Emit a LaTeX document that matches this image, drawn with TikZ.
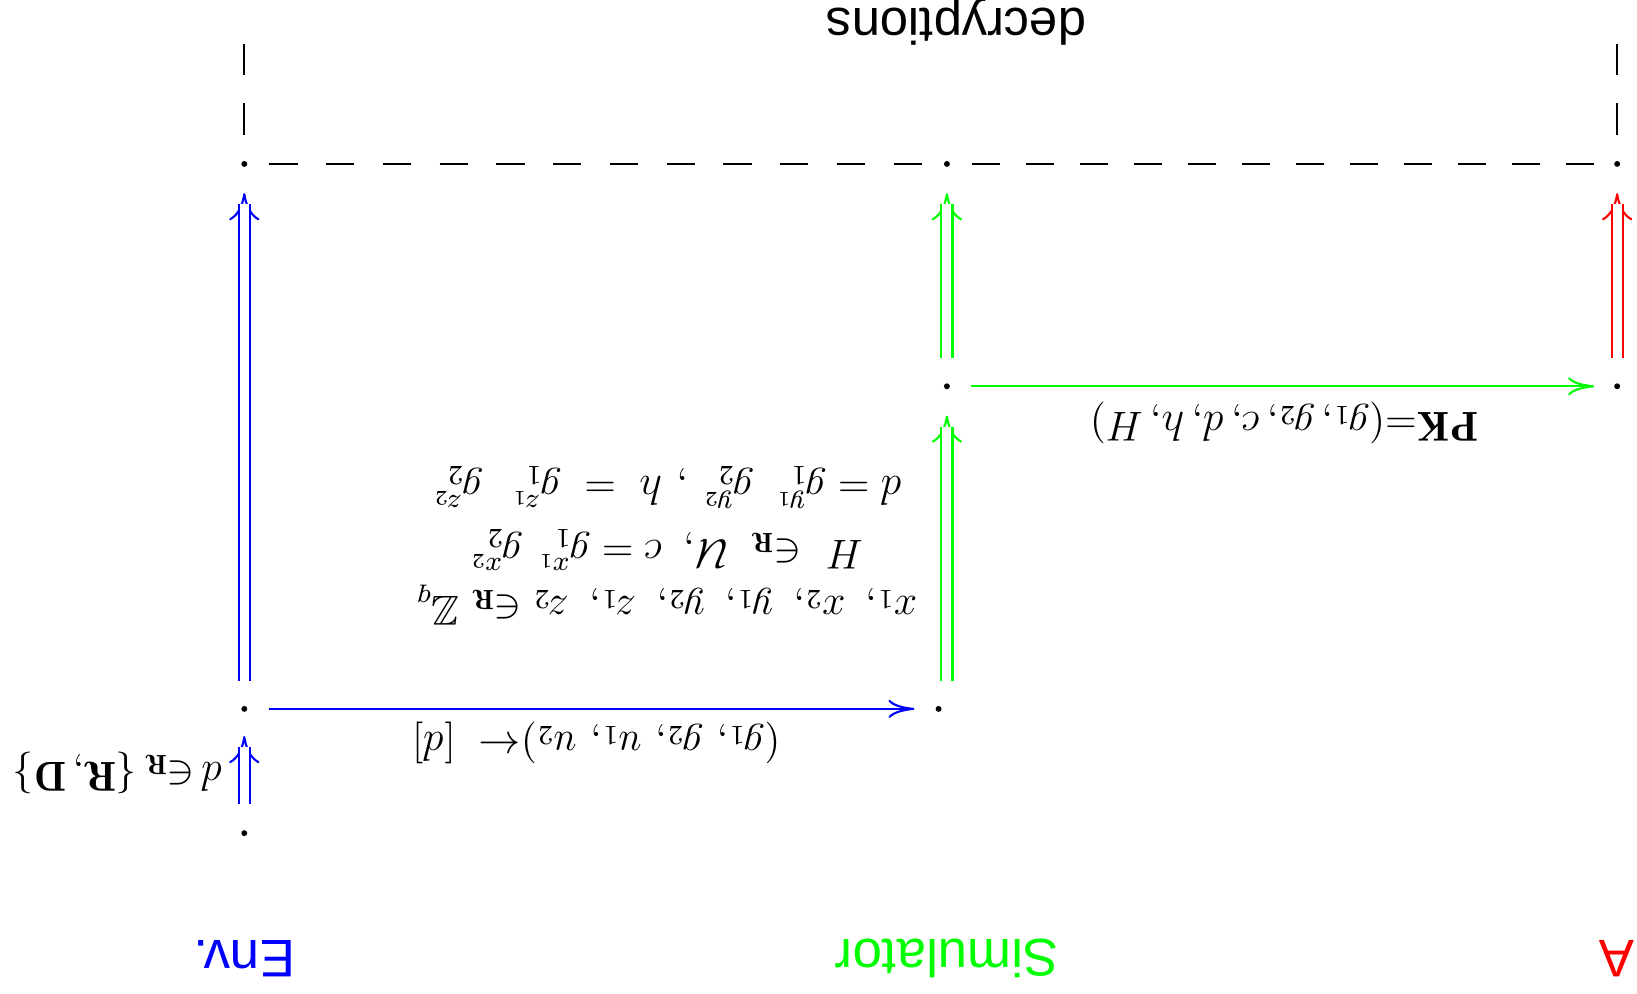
\documentclass[tikz,border=0pt]{standalone}
\usepackage{amssymb}
\usepackage{fontspec}
\newfontfamily\labfont{Liberation Sans}
\usetikzlibrary{arrows.meta}
\definecolor{pblue}{RGB}{0,0,255}
\definecolor{pgreen}{RGB}{0,255,0}
\definecolor{pred}{RGB}{255,0,0}
\begin{document}
\begin{tikzpicture}[x=0.3pt,y=-0.3pt,
  dot/.style={circle, fill=black, draw=none, inner sep=0pt, minimum size=1.7pt},
  lbl/.style={rotate=180, inner sep=0pt, font=\fontsize{12}{14}\selectfont},
  sans/.style={rotate=180, inner sep=0pt, font=\labfont\fontsize{15.2}{18}\selectfont},
  shaft/.style={double, double distance=2.6pt, line width=0.6pt, shorten <=8.1pt, shorten >=11.6pt},
  dhead/.style={line width=0.6pt, dash pattern=on 0pt off 3000pt, -{To[length=7.8pt,width=8.7pt]}, shorten >=8.4pt},
  sarr/.style={line width=0.6pt, -{To[length=7.5pt,width=5.2pt]}},
  dsh/.style={line width=0.6pt},
  vdsh/.style={line width=0.6pt, dash pattern=on 9pt off 8.1pt, shorten <=8.4pt}]
\useasboundingbox (0,0) rectangle (1568,952);
% dots
\node[dot] (t1) at (234,157) {};
\node[dot] (t2) at (907,157) {};
\node[dot] (t3) at (1549,157) {};
\node[dot] (m2) at (907,370) {};
\node[dot] (m3) at (1549,370) {};
\node[dot] (b1) at (234,679) {};
\node[dot] (b2) at (899,679) {};
\node[dot] (e1) at (234,798) {};
\coordinate (b2g) at (907,679);
\coordinate (v1) at (234,41);
\coordinate (v3) at (1549,41);
% dashed lines
\draw[dsh, dash pattern=on 8.1pt off 8.21pt, shorten <=7.2pt, shorten >=7.2pt] (t1.center) -- (t2.center);
\draw[dsh, dash pattern=on 8.1pt off 7.42pt, shorten <=6.6pt, shorten >=7.2pt] (t3.center) -- (t2.center);
\draw[vdsh] (t1.center) -- (v1);
\draw[vdsh] (t3.center) -- (v3);
% blue
\draw[pblue, dhead, shorten >=7.8pt] (e1.center) -- (b1.center);
\draw[pblue, shaft, shorten <=8.4pt, shorten >=11pt] (e1.center) -- (b1.center);
\draw[pblue, dhead] (b1.center) -- (t1.center);
\draw[pblue, shaft] (b1.center) -- (t1.center);
\draw[pblue, sarr, shorten <=7.2pt, shorten >=6.9pt] (b1.center) -- (b2.center);
% green
\draw[pgreen, dhead] (b2g) -- (m2.center);
\draw[pgreen, shaft] (b2g) -- (m2.center);
\draw[pgreen, dhead] (m2.center) -- (t2.center);
\draw[pgreen, shaft] (m2.center) -- (t2.center);
\draw[pgreen, sarr, shorten <=6.9pt, shorten >=6.6pt] (m2.center) -- (m3.center);
% red
\draw[pred, dhead] (m3.center) -- (t3.center);
\draw[pred, shaft] (m3.center) -- (t3.center);
% labels
\node[lbl] (lx) at (638,580) {$x_1,\ x_2,\ y_1,\ y_2,\ z_1,\ z_2\in_{\mathbf R}\mathbb{Z}_q$};
\node[lbl] (lh) at (638,527) {$H\ \in_{\mathbf R}\ \mathcal{U},\ c=g_1^{x_1}\ g_2^{x_2}$};
\node[lbl] (ld) at (639,467) {$d=g_1^{y_1}\ \,g_2^{y_2}\ ,\,h\;=\;g_1^{z_1}\ \ g_2^{z_2}$};
\node[lbl] (pk) at (1230,405) {$\mathbf{PK}{=}(g_1,g_2,c,d,h,H)$};
\node[lbl] (gu) at (571,712) {$(g_1,\,g_2,\,u_1,\,u_2){\leftarrow}\;\;[d]$};
\node[lbl] (dr) at (113,740) {$d\,{\in_{\mathbf R}}\,\{\mathbf{R}{,}\,\mathbf{D}\}$};
\node[sans, text=pblue] (env) at (234,918) {Env.};
\node[sans, text=pgreen] (sim) at (907,918) {Simulator};
\node[sans, text=pred] (adv) at (1549,918) {A};
\node[sans, font=\labfont\fontsize{14.6}{18}\selectfont] (dec) at (916,21) {decryptions};
\end{tikzpicture}
\end{document}
